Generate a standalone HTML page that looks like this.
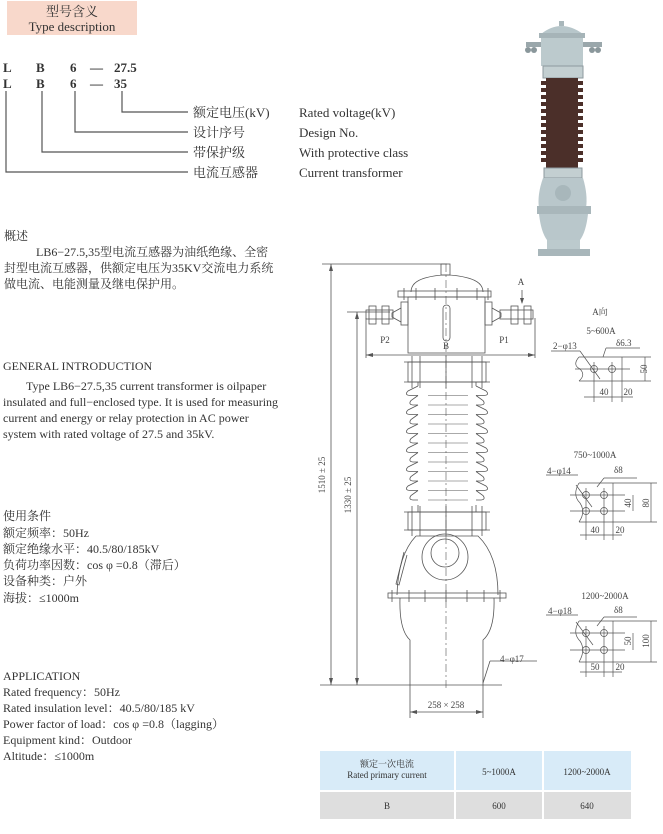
<!DOCTYPE html>
<html><head><meta charset="utf-8">
<style>
html,body{margin:0;padding:0;background:#fff;}
svg{display:block;}
text{font-family:"Liberation Serif","Noto Serif CJK SC","Noto Sans CJK SC",serif;fill:#333;}
.d{font-family:"Liberation Serif","Noto Serif CJK SC",serif;font-size:9px;fill:#444;}
</style></head>
<body>
<svg width="663" height="834" viewBox="0 0 663 834" xmlns="http://www.w3.org/2000/svg">
<defs>
<g id="shedA" stroke="#555" stroke-width="0.8" fill="none">
<path d="M418,0 L408,5 Q404,9 410,9.5 L418,9.5"/>
<path d="M476,0 L486,5 Q490,9 484,9.5 L476,9.5"/>
<line x1="428" y1="9.5" x2="468" y2="9.5" stroke-width="0.5"/>
</g>
<g id="shedB" stroke="#555" stroke-width="0.8" fill="none">
<path d="M418,0 L411,5 Q408,9 413,9.5 L418,9.5"/>
<path d="M476,0 L483,5 Q486,9 481,9.5 L476,9.5"/>
<line x1="428" y1="9.5" x2="468" y2="9.5" stroke-width="0.5"/>
</g>
</defs>
<!-- Header box -->
<rect x="7" y="1" width="130" height="34" fill="#f8d8cb"/>
<text x="72" y="16" font-size="13" text-anchor="middle">型号含义</text>
<text x="72" y="31" font-size="13" text-anchor="middle">Type description</text>

<g font-size="13" font-weight="bold" fill="#333">
<text x="3" y="72">L</text><text x="36" y="72">B</text><text x="70" y="72">6</text><text x="90" y="72">—</text><text x="114" y="72">27.5</text>
<text x="3" y="88">L</text><text x="36" y="88">B</text><text x="70" y="88">6</text><text x="90" y="88">—</text><text x="114" y="88">35</text>
</g>
<g stroke="#555" stroke-width="1.2" fill="none">
<polyline points="122,91 122,112 188,112"/>
<polyline points="75,91 75,132 188,132"/>
<polyline points="42,91 42,152 188,152"/>
<polyline points="6,91 6,172 188,172"/>
</g>
<g font-size="13">
<text x="193" y="117">额定电压(kV)</text><text x="299" y="117">Rated voltage(kV)</text>
<text x="193" y="137">设计序号</text><text x="299" y="137">Design No.</text>
<text x="193" y="157">带保护级</text><text x="299" y="157">With protective class</text>
<text x="193" y="177">电流互感器</text><text x="299" y="177">Current transformer</text>
</g>

<g font-size="12">
<text x="4" y="240">概述</text>
<text x="36" y="256">LB6−27.5,35型电流互感器为油纸绝缘、全密</text>
<text x="4" y="272">封型电流互感器，供额定电压为35KV交流电力系统</text>
<text x="4" y="288">做电流、电能测量及继电保护用。</text>
<text x="3" y="370">GENERAL INTRODUCTION</text>
<text x="26" y="390">Type LB6−27.5,35 current transformer is oilpaper</text>
<text x="3" y="406">insulated and full−enclosed type. It is used for measuring</text>
<text x="3" y="422">current and energy or relay protection in AC power</text>
<text x="3" y="438">system with rated voltage of 27.5 and 35kV.</text>
<text x="3" y="520">使用条件</text>
<text x="3" y="537">额定频率：50Hz</text>
<text x="3" y="553">额定绝缘水平：40.5/80/185kV</text>
<text x="3" y="569">负荷功率因数：cos φ =0.8（滞后）</text>
<text x="3" y="585">设备种类：户外</text>
<text x="3" y="602">海拔：≤1000m</text>
<text x="3" y="680">APPLICATION</text>
<text x="3" y="696">Rated frequency：50Hz</text>
<text x="3" y="712">Rated insulation level：40.5/80/185 kV</text>
<text x="3" y="728">Power factor of load：cos φ =0.8（lagging）</text>
<text x="3" y="744">Equipment kind：Outdoor</text>
<text x="3" y="760">Altitude：≤1000m</text>
</g>

<!-- Photo -->
<g>
<rect x="526" y="42" width="76" height="5" fill="#9aa7ab"/>
<circle cx="528" cy="50" r="3" fill="#8a979b"/><circle cx="534" cy="50" r="3" fill="#8a979b"/>
<circle cx="592" cy="50" r="3" fill="#8a979b"/><circle cx="598" cy="50" r="3" fill="#8a979b"/>
<path d="M541,34 Q561,18 583,34 Z" fill="#b7c6ca"/>
<rect x="559" y="21" width="5" height="5" fill="#a9b7bb"/>
<rect x="539" y="33" width="46" height="5" fill="#a6b4b8"/>
<rect x="541" y="38" width="42" height="28" fill="#bccacd"/>
<rect x="543" y="66" width="40" height="12" fill="#c3cfd1" stroke="#8e9a9e"/>
<rect x="546" y="78" width="32" height="90" fill="#4b2f29"/>
<g stroke="#4b2f29" stroke-width="4">
<line x1="541" y1="83" x2="583" y2="83"/><line x1="541" y1="90" x2="583" y2="90"/><line x1="541" y1="97" x2="583" y2="97"/>
<line x1="541" y1="104" x2="583" y2="104"/><line x1="541" y1="111" x2="583" y2="111"/><line x1="541" y1="118" x2="583" y2="118"/>
<line x1="541" y1="125" x2="583" y2="125"/><line x1="541" y1="132" x2="583" y2="132"/><line x1="541" y1="139" x2="583" y2="139"/>
<line x1="541" y1="146" x2="583" y2="146"/><line x1="541" y1="153" x2="583" y2="153"/><line x1="541" y1="160" x2="583" y2="160"/>
</g>
<rect x="544" y="168" width="38" height="10" fill="#c3cfd1" stroke="#8e9a9e"/>
<path d="M543,178 L583,178 Q588,195 586,208 L539,208 Q537,195 543,178 Z" fill="#b9c7cb"/>
<circle cx="563" cy="193" r="8" fill="#a8b7bb"/>
<rect x="537" y="206" width="54" height="8" fill="#a9b7bb"/>
<path d="M539,214 L588,214 Q586,232 580,240 L547,240 Q541,232 539,214 Z" fill="#b9c7cb"/>
<rect x="547" y="240" width="33" height="10" fill="#bccacd"/>
<rect x="538" y="249" width="52" height="7" fill="#a8b6ba"/>
</g>

<!-- Drawing -->
<g stroke="#555" stroke-width="0.8" fill="none">
<line x1="322" y1="264" x2="447" y2="264"/>
<line x1="331" y1="264" x2="331" y2="685"/>
<line x1="347" y1="312" x2="390" y2="312"/>
<line x1="357" y1="312" x2="357" y2="685"/>
<line x1="320" y1="685" x2="502" y2="685"/>
<rect x="441" y="264" width="9" height="11"/>
<path d="M411,292 Q411,282 425,278 Q446,272 468,278 Q483,282 483,292"/>
<rect x="398" y="291" width="93" height="6"/>
<rect x="408" y="297" width="77" height="56"/>
<rect x="443" y="305" width="7" height="36" rx="3.5"/>
<line x1="404" y1="288" x2="404" y2="300"/><line x1="416" y1="288" x2="416" y2="300"/><line x1="435" y1="288" x2="435" y2="300"/>
<line x1="457" y1="288" x2="457" y2="300"/><line x1="477" y1="288" x2="477" y2="300"/><line x1="488" y1="288" x2="488" y2="300"/>
<rect x="401" y="302" width="7" height="23"/><rect x="485" y="302" width="7" height="23"/>
<path d="M401,308 L392,313 L392,317 L401,322"/><path d="M492,308 L501,313 L501,317 L492,322"/>
<rect x="366" y="310" width="27" height="9"/><rect x="500" y="310" width="33" height="9"/>
<rect x="369" y="306" width="7" height="18"/><rect x="382" y="306" width="7" height="18"/>
<rect x="511" y="306" width="7" height="18"/><rect x="524" y="306" width="7" height="18"/>
<line x1="366" y1="318" x2="366" y2="358"/><line x1="535" y1="318" x2="535" y2="358"/>
<line x1="366" y1="355" x2="535" y2="355"/>
<line x1="522" y1="290" x2="522" y2="303"/>
<rect x="408" y="362" width="78" height="20"/>
<line x1="404" y1="362" x2="490" y2="362"/><line x1="404" y1="382" x2="490" y2="382"/>
<line x1="412" y1="356" x2="412" y2="388"/><line x1="420" y1="356" x2="420" y2="388"/><line x1="446" y1="356" x2="446" y2="388"/>
<line x1="472" y1="356" x2="472" y2="388"/><line x1="482" y1="356" x2="482" y2="388"/>
<line x1="418" y1="382" x2="418" y2="386"/><line x1="476" y1="382" x2="476" y2="386"/>
<line x1="418" y1="505" x2="418" y2="512"/><line x1="476" y1="505" x2="476" y2="512"/>
<rect x="408" y="512" width="78" height="18"/>
<line x1="404" y1="512" x2="490" y2="512"/><line x1="404" y1="530" x2="490" y2="530"/>
<line x1="412" y1="506" x2="412" y2="536"/><line x1="420" y1="506" x2="420" y2="536"/><line x1="446" y1="506" x2="446" y2="536"/>
<line x1="472" y1="506" x2="472" y2="536"/><line x1="482" y1="506" x2="482" y2="536"/>
<path d="M416,536 L478,536 Q498,555 498,595"/>
<path d="M416,536 Q398,555 397,595"/>
<circle cx="445" cy="557" r="23"/><circle cx="445" cy="553" r="14"/>
<path d="M404,552 L396,584 L399,585 L407,555"/>
<rect x="388" y="593" width="118" height="5"/>
<line x1="392" y1="590" x2="392" y2="602"/><line x1="409" y1="590" x2="409" y2="602"/><line x1="425" y1="590" x2="425" y2="602"/>
<line x1="446" y1="590" x2="446" y2="602"/><line x1="467" y1="590" x2="467" y2="602"/><line x1="484" y1="590" x2="484" y2="602"/><line x1="500" y1="590" x2="500" y2="602"/>
<path d="M400,598 Q399,630 410,640 L410,685"/>
<path d="M494,598 Q495,630 483,640 L483,685"/>
<line x1="446" y1="264" x2="446" y2="690" stroke-dasharray="8,3,2,3" stroke-width="0.6"/>
<line x1="410" y1="685" x2="410" y2="718"/><line x1="483" y1="685" x2="483" y2="718"/>
<line x1="410" y1="712" x2="483" y2="712"/>
<line x1="483" y1="683" x2="490" y2="661"/><line x1="490" y1="661" x2="537" y2="661"/>
</g>
<use href="#shedA" transform="translate(0,386)"/>
<use href="#shedB" transform="translate(0,395.5)"/>
<use href="#shedA" transform="translate(0,405)"/>
<use href="#shedB" transform="translate(0,414.5)"/>
<use href="#shedA" transform="translate(0,424)"/>
<use href="#shedB" transform="translate(0,433.5)"/>
<use href="#shedA" transform="translate(0,443)"/>
<use href="#shedB" transform="translate(0,452.5)"/>
<use href="#shedA" transform="translate(0,462)"/>
<use href="#shedB" transform="translate(0,471.5)"/>
<use href="#shedA" transform="translate(0,481)"/>
<use href="#shedB" transform="translate(0,490.5)"/>
<g fill="#555">
<path d="M331,264 l-2,7 h4z"/><path d="M331,685 l-2,-7 h4z"/>
<path d="M357,312 l-2,7 h4z"/><path d="M357,685 l-2,-7 h4z"/>
<path d="M366,355 l7,-2 v4z"/><path d="M535,355 l-7,-2 v4z"/>
<path d="M522,304 l-2,-6 h4z"/>
<path d="M410,712 l7,-2 v4z"/><path d="M483,712 l-7,-2 v4z"/>
</g>
<text class="d" transform="translate(325,475) rotate(-90)" text-anchor="middle">1510 ± 25</text>
<text class="d" transform="translate(351,495) rotate(-90)" text-anchor="middle">1330 ± 25</text>
<text class="d" x="385" y="343" text-anchor="middle">P2</text>
<text class="d" x="446" y="349" text-anchor="middle">B</text>
<text class="d" x="504" y="343" text-anchor="middle">P1</text>
<text class="d" x="521" y="285" text-anchor="middle" font-size="10">A</text>
<text class="d" x="500" y="662">4−φ17</text>
<text class="d" x="446" y="708" text-anchor="middle">258 × 258</text>

<text class="d" x="600" y="315" text-anchor="middle">A向</text>
<text class="d" x="601" y="334" text-anchor="middle">5~600A</text>
<text class="d" x="553" y="349">2−φ13</text>
<text class="d" x="616" y="346">δ6.3</text>
<g stroke="#555" stroke-width="0.7" fill="none">
<line x1="551" y1="351" x2="580" y2="351"/><line x1="580" y1="351" x2="600" y2="379"/>
<line x1="606" y1="348" x2="640" y2="348"/><line x1="606" y1="348" x2="603" y2="357"/>
<path d="M579,357 L651,357 M579,381 L651,381 M579,357 Q572,365 580,369 Q586,375 579,381"/>
<line x1="622" y1="357" x2="622" y2="381"/>
<circle cx="594" cy="369" r="3.5"/><circle cx="612" cy="369" r="3.5"/>
<line x1="575" y1="369" x2="630" y2="369"/><line x1="594" y1="362" x2="594" y2="402"/><line x1="612" y1="362" x2="612" y2="402"/><line x1="622" y1="381" x2="622" y2="402"/>
<line x1="645" y1="357" x2="645" y2="381"/>
<line x1="584" y1="397" x2="633" y2="397"/>

<line x1="546" y1="475" x2="578" y2="475"/><line x1="576" y1="485" x2="592" y2="507"/>
<line x1="604" y1="478" x2="637" y2="478"/><line x1="604" y1="478" x2="597" y2="487"/>
<path d="M579,483 L657,483 M579,522 L657,522 M579,483 Q572,495 580,503 Q586,512 579,522"/>
<line x1="613" y1="483" x2="613" y2="522"/>
<circle cx="586" cy="495" r="3.5"/><circle cx="604" cy="495" r="3.5"/><circle cx="586" cy="511" r="3.5"/><circle cx="604" cy="511" r="3.5"/>
<line x1="570" y1="495" x2="625" y2="495"/><line x1="570" y1="511" x2="625" y2="511"/>
<line x1="586" y1="488" x2="586" y2="540"/><line x1="604" y1="488" x2="604" y2="540"/><line x1="613" y1="522" x2="613" y2="540"/>
<line x1="633" y1="495" x2="633" y2="511"/><line x1="651" y1="483" x2="651" y2="522"/>
<line x1="580" y1="535" x2="622" y2="535"/>

<line x1="546" y1="615" x2="578" y2="615"/><line x1="576" y1="622" x2="593" y2="645"/>
<line x1="604" y1="617" x2="637" y2="617"/><line x1="604" y1="617" x2="597" y2="626"/>
<path d="M579,621 L657,621 M579,662 L657,662 M579,621 Q572,633 580,641 Q586,650 579,662"/>
<line x1="613" y1="621" x2="613" y2="662"/>
<circle cx="586" cy="633" r="3.5"/><circle cx="604" cy="633" r="3.5"/><circle cx="586" cy="650" r="3.5"/><circle cx="604" cy="650" r="3.5"/>
<line x1="570" y1="633" x2="625" y2="633"/><line x1="570" y1="650" x2="625" y2="650"/>
<line x1="586" y1="626" x2="586" y2="677"/><line x1="604" y1="626" x2="604" y2="677"/><line x1="613" y1="662" x2="613" y2="677"/>
<line x1="633" y1="633" x2="633" y2="650"/><line x1="651" y1="621" x2="651" y2="662"/>
<line x1="580" y1="672" x2="622" y2="672"/>
</g>
<text class="d" transform="translate(647,369) rotate(-90)" text-anchor="middle">50</text>
<text class="d" x="604" y="395" text-anchor="middle">40</text>
<text class="d" x="628" y="395" text-anchor="middle">20</text>
<text class="d" x="595" y="458" text-anchor="middle">750~1000A</text>
<text class="d" x="547" y="474">4−φ14</text>
<text class="d" x="614" y="473">δ8</text>
<text class="d" transform="translate(631,503) rotate(-90)" text-anchor="middle">40</text>
<text class="d" transform="translate(649,503) rotate(-90)" text-anchor="middle">80</text>
<text class="d" x="595" y="533" text-anchor="middle">40</text>
<text class="d" x="620" y="533" text-anchor="middle">20</text>
<text class="d" x="605" y="599" text-anchor="middle">1200~2000A</text>
<text class="d" x="548" y="614">4−φ18</text>
<text class="d" x="614" y="613">δ8</text>
<text class="d" transform="translate(631,641) rotate(-90)" text-anchor="middle">50</text>
<text class="d" transform="translate(649,641) rotate(-90)" text-anchor="middle">100</text>
<text class="d" x="595" y="670" text-anchor="middle">50</text>
<text class="d" x="620" y="670" text-anchor="middle">20</text>

<rect x="320" y="751" width="134" height="39" fill="#d8ebf8"/>
<rect x="456" y="751" width="86" height="39" fill="#d8ebf8"/>
<rect x="544" y="751" width="87" height="39" fill="#d8ebf8"/>
<rect x="320" y="792" width="134" height="27" fill="#dedede"/>
<rect x="456" y="792" width="86" height="27" fill="#dedede"/>
<rect x="544" y="792" width="87" height="27" fill="#dedede"/>
<g font-size="9" fill="#444" text-anchor="middle">
<text x="387" y="767">额定一次电流</text>
<text x="387" y="778">Rated primary current</text>
<text x="499" y="775">5~1000A</text>
<text x="587" y="775">1200~2000A</text>
<text x="387" y="809">B</text>
<text x="499" y="809">600</text>
<text x="587" y="809">640</text>
</g>
</svg>
</body></html>
